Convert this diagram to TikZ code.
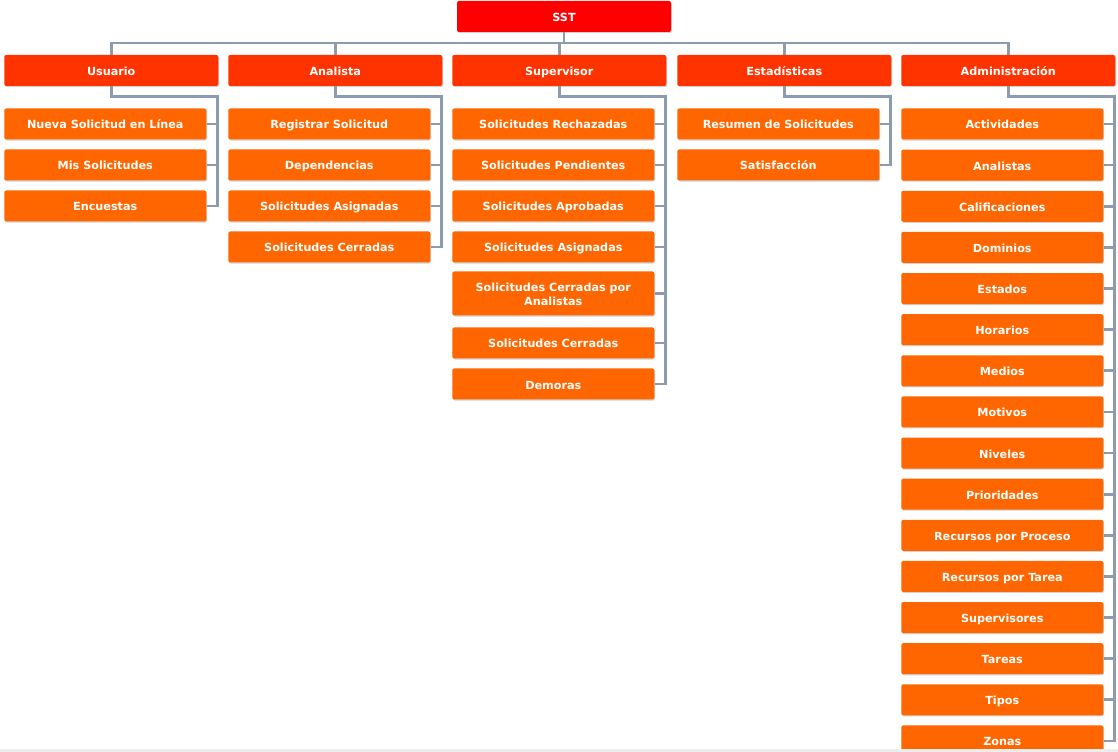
\documentclass[tikz,border=0pt]{standalone}
\usepackage{fontspec}
\setmainfont{DejaVu Sans}
\usetikzlibrary{shadows}
\definecolor{sstred}{HTML}{FF0000}
\definecolor{menured}{HTML}{FF3300}
\definecolor{itemorange}{HTML}{FF6600}
\definecolor{linkgray}{HTML}{8D9BAE}

\tikzset{
  box/.style={rounded corners=1.5pt, text=white, align=center, inner sep=0pt,
    font=\bfseries\fontsize{8.4}{10.5}\selectfont, minimum height=23.25pt,
    text height=7.8pt, text depth=0.3pt,
    drop shadow={shadow xshift=0.6pt, shadow yshift=-0.8pt, fill=black, opacity=0.18}},
  rootbox/.style={box, fill=sstred, minimum width=160.5pt},
  menubox/.style={box, fill=menured, minimum width=160.5pt, anchor=west},
  itembox/.style={box, fill=itemorange, minimum width=151.5pt, anchor=west},
  link/.style={draw=linkgray, line width=2pt}
}

\begin{document}
\begin{tikzpicture}[x=0.75pt, y=-0.75pt]
  \def\colA{4}
  \def\colB{228}
  \def\colC{452}
  \def\colD{677}
  \def\colE{901}
  \def\row{41.13}

  \useasboundingbox (0,0) rectangle (1118,752);
  \fill[white] (0,0) rectangle (1118,752);

  \node[rootbox] (sst) at (564,16.5) {SST};
  \coordinate (bus) at (564,43);

  \node[menubox] (usuario) at (\colA,70.5) {Usuario};
  \node[menubox] (analista) at (\colB,70.5) {Analista};
  \node[menubox] (supervisor) at (\colC,70.5) {Supervisor};
  \node[menubox] (estadisticas) at (\colD,70.5) {Estadísticas};
  \node[menubox] (admin) at (\colE,70.5) {Administración};

  % Usuario
  \node[itembox] (usu1) at (\colA,124) {Nueva Solicitud en Línea};
  \node[itembox] (usu2) at (\colA,165) {Mis Solicitudes};
  \node[itembox] (usu3) at (\colA,206) {Encuestas};

  % Analista
  \node[itembox] (ana1) at (\colB,124) {Registrar Solicitud};
  \node[itembox] (ana2) at (\colB,165) {Dependencias};
  \node[itembox] (ana3) at (\colB,206) {Solicitudes Asignadas};
  \node[itembox] (ana4) at (\colB,247) {Solicitudes Cerradas};

  % Supervisor
  \node[itembox] (sup1) at (\colC,124) {Solicitudes Rechazadas};
  \node[itembox] (sup2) at (\colC,165) {Solicitudes Pendientes};
  \node[itembox] (sup3) at (\colC,206) {Solicitudes Aprobadas};
  \node[itembox] (sup4) at (\colC,247) {Solicitudes Asignadas};
  \node[itembox, minimum height=33pt, text height=18.9pt] (sup5) at (\colC,293.5) {Solicitudes Cerradas por\\Analistas};
  \node[itembox] (sup6) at (\colC,343) {Solicitudes Cerradas};
  \node[itembox] (sup7) at (\colC,384) {Demoras};

  % Estadisticas
  \node[itembox] (est1) at (\colD,124) {Resumen de Solicitudes};
  \node[itembox] (est2) at (\colD,165) {Satisfacción};

  % Administracion
  \node[itembox] (adm1) at (\colE,124) {Actividades};
  \node[itembox] (adm2) at (\colE,{124+\row}) {Analistas};
  \node[itembox] (adm3) at (\colE,{124+2*\row}) {Calificaciones};
  \node[itembox] (adm4) at (\colE,{124+3*\row}) {Dominios};
  \node[itembox] (adm5) at (\colE,{124+4*\row}) {Estados};
  \node[itembox] (adm6) at (\colE,{124+5*\row}) {Horarios};
  \node[itembox] (adm7) at (\colE,{124+6*\row}) {Medios};
  \node[itembox] (adm8) at (\colE,{124+7*\row}) {Motivos};
  \node[itembox] (adm9) at (\colE,{124+8*\row}) {Niveles};
  \node[itembox] (adm10) at (\colE,{124+9*\row}) {Prioridades};
  \node[itembox] (adm11) at (\colE,{124+10*\row}) {Recursos por Proceso};
  \node[itembox] (adm12) at (\colE,{124+11*\row}) {Recursos por Tarea};
  \node[itembox] (adm13) at (\colE,{124+12*\row}) {Supervisores};
  \node[itembox] (adm14) at (\colE,{124+13*\row}) {Tareas};
  \node[itembox] (adm15) at (\colE,{124+14*\row}) {Tipos};
  \node[itembox] (adm16) at (\colE,{124+15*\row}) {Zonas};

  % top level
  \draw[link] (sst.south) -- (bus);
  \draw[link] (usuario.north) |- (bus) -| (admin.north);
  \draw[link] (analista.north) -- (analista.north |- bus);
  \draw[link] (supervisor.north) -- (supervisor.north |- bus);
  \draw[link] (estadisticas.north) -- (estadisticas.north |- bus);

  % Usuario
  \draw[link] (usuario.south) -- ++(0,10) -| ([xshift=-0.75pt]usuario.east |- usu3.east) -- (usu3.east);
  \draw[link] (usu1.east) -- ([xshift=-0.75pt]usuario.east |- usu1.east);
  \draw[link] (usu2.east) -- ([xshift=-0.75pt]usuario.east |- usu2.east);

  % Analista
  \draw[link] (analista.south) -- ++(0,10) -| ([xshift=-0.75pt]analista.east |- ana4.east) -- (ana4.east);
  \draw[link] (ana1.east) -- ([xshift=-0.75pt]analista.east |- ana1.east);
  \draw[link] (ana2.east) -- ([xshift=-0.75pt]analista.east |- ana2.east);
  \draw[link] (ana3.east) -- ([xshift=-0.75pt]analista.east |- ana3.east);

  % Supervisor
  \draw[link] (supervisor.south) -- ++(0,10) -| ([xshift=-0.75pt]supervisor.east |- sup7.east) -- (sup7.east);
  \draw[link] (sup1.east) -- ([xshift=-0.75pt]supervisor.east |- sup1.east);
  \draw[link] (sup2.east) -- ([xshift=-0.75pt]supervisor.east |- sup2.east);
  \draw[link] (sup3.east) -- ([xshift=-0.75pt]supervisor.east |- sup3.east);
  \draw[link] (sup4.east) -- ([xshift=-0.75pt]supervisor.east |- sup4.east);
  \draw[link] (sup5.east) -- ([xshift=-0.75pt]supervisor.east |- sup5.east);
  \draw[link] (sup6.east) -- ([xshift=-0.75pt]supervisor.east |- sup6.east);

  % Estadisticas
  \draw[link] (estadisticas.south) -- ++(0,10) -| ([xshift=-0.75pt]estadisticas.east |- est2.east) -- (est2.east);
  \draw[link] (est1.east) -- ([xshift=-0.75pt]estadisticas.east |- est1.east);

  % Administracion
  \draw[link] (admin.south) -- ++(0,10) -| ([xshift=-0.75pt]admin.east |- adm16.east) -- (adm16.east);
  \draw[link] (adm1.east) -- ([xshift=-0.75pt]admin.east |- adm1.east);
  \draw[link] (adm2.east) -- ([xshift=-0.75pt]admin.east |- adm2.east);
  \draw[link] (adm3.east) -- ([xshift=-0.75pt]admin.east |- adm3.east);
  \draw[link] (adm4.east) -- ([xshift=-0.75pt]admin.east |- adm4.east);
  \draw[link] (adm5.east) -- ([xshift=-0.75pt]admin.east |- adm5.east);
  \draw[link] (adm6.east) -- ([xshift=-0.75pt]admin.east |- adm6.east);
  \draw[link] (adm7.east) -- ([xshift=-0.75pt]admin.east |- adm7.east);
  \draw[link] (adm8.east) -- ([xshift=-0.75pt]admin.east |- adm8.east);
  \draw[link] (adm9.east) -- ([xshift=-0.75pt]admin.east |- adm9.east);
  \draw[link] (adm10.east) -- ([xshift=-0.75pt]admin.east |- adm10.east);
  \draw[link] (adm11.east) -- ([xshift=-0.75pt]admin.east |- adm11.east);
  \draw[link] (adm12.east) -- ([xshift=-0.75pt]admin.east |- adm12.east);
  \draw[link] (adm13.east) -- ([xshift=-0.75pt]admin.east |- adm13.east);
  \draw[link] (adm14.east) -- ([xshift=-0.75pt]admin.east |- adm14.east);
  \draw[link] (adm15.east) -- ([xshift=-0.75pt]admin.east |- adm15.east);

  % page edge
  \fill[black!7] (0,748.5) rectangle (1118,752);
\end{tikzpicture}
\end{document}
